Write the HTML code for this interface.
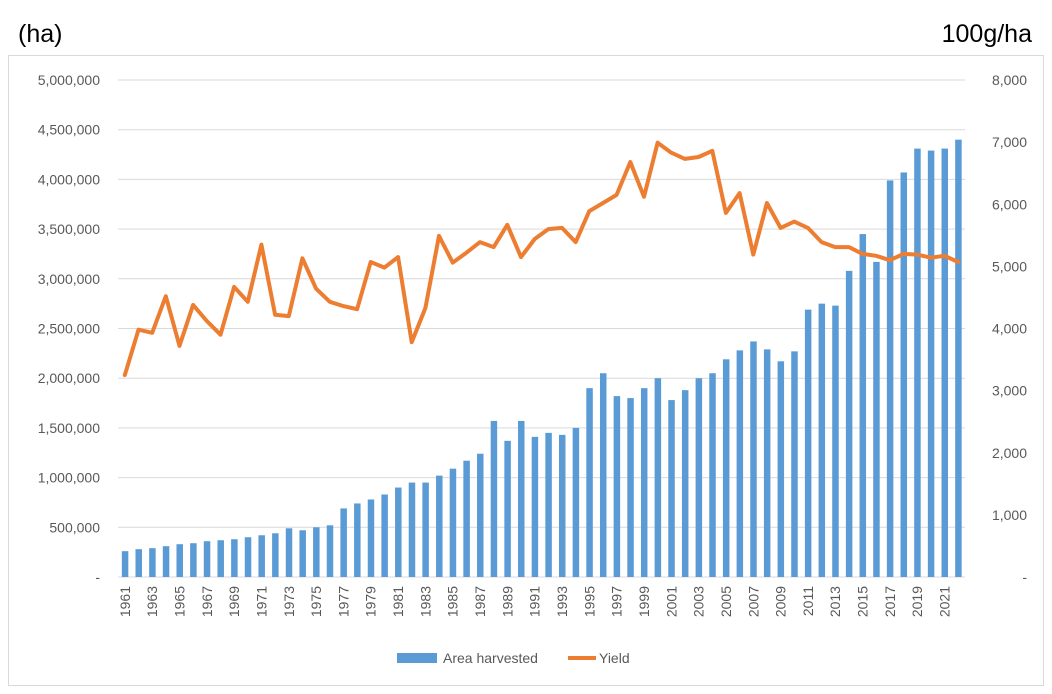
<!DOCTYPE html>
<html><head><meta charset="utf-8"><style>
body{margin:0;background:#fff;width:1052px;height:689px;overflow:hidden;font-family:"Liberation Sans",sans-serif}
text{font-family:"Liberation Sans",sans-serif}
</style></head><body>
<svg id="c" width="1052" height="689">
<text x="18" y="42" font-size="25" fill="#000">(ha)</text>
<text x="1032" y="42" font-size="25" fill="#000" text-anchor="end">100g/ha</text>
<rect x="8.5" y="55.5" width="1035" height="630" fill="none" stroke="#d9d9d9"/>
<g id="grid"></g><g id="bars"></g><g id="line"></g><g id="axes"></g>
<g>
<rect x="397" y="653" width="40" height="10" fill="#5b9bd5"/>
<text x="443" y="663" font-size="14" fill="#595959">Area harvested</text>
<line x1="568" y1="658" x2="596" y2="658" stroke="#ed7d31" stroke-width="4"/>
<text x="599" y="663" font-size="14" fill="#595959">Yield</text>
</g>
</svg>
<script>
const years=[];for(let y=1961;y<=2022;y++)years.push(y);
const area=[260,280,290,310,330,340,360,370,380,400,420,440,490,470,500,520,690,740,780,830,900,950,950,1020,1090,1170,1240,1570,1370,1570,1410,1450,1430,1500,1900,2050,1820,1800,1900,2000,1780,1880,2000,2050,2190,2280,2370,2290,2170,2270,2690,2750,2730,3080,3450,3170,3990,4070,4310,4290,4310,4400].map(v=>v*1000);
const yieldV=[3250,3980,3930,4520,3720,4380,4120,3900,4670,4430,5350,4220,4200,5130,4640,4430,4360,4310,5070,4980,5150,3780,4330,5490,5060,5220,5390,5310,5670,5150,5440,5600,5620,5390,5890,6020,6150,6680,6120,6990,6830,6730,6760,6860,5860,6180,5190,6020,5620,5720,5620,5390,5310,5310,5200,5170,5100,5200,5190,5140,5170,5070];
const leftTicks=[0,500000,1000000,1500000,2000000,2500000,3000000,3500000,4000000,4500000,5000000];
const rightTicks=[0,1000,2000,3000,4000,5000,6000,7000,8000];
const X0=118,X1=965,Y0=577,Y1=80;
const step=(X1-X0)/years.length;
const xc=i=>X0+step*(i+0.5);
const yl=v=>Y0-(v/5000000)*(Y0-Y1);
const yr=v=>Y0-(v/8000)*(Y0-Y1);
const NS='http://www.w3.org/2000/svg';
function mk(t,a,p){const e=document.createElementNS(NS,t);for(const k in a)e.setAttribute(k,a[k]);p.appendChild(e);return e;}
const g=document.getElementById('grid'),b=document.getElementById('bars'),l=document.getElementById('line'),ax=document.getElementById('axes');
const fmt=v=>v===0?'-':v.toLocaleString('en-US');
leftTicks.forEach(v=>{
 const ln=mk('line',{x1:X0,x2:X1,y1:yl(v),y2:yl(v),stroke:'#d9d9d9','stroke-width':1},g);
 
 
 const t=mk('text',{x:100,y:yl(v)+5,'font-size':14,fill:'#595959','text-anchor':'end'},ax);t.textContent=fmt(v);
 
 
});
rightTicks.forEach(v=>{
 const t=mk('text',{x:1027,y:yr(v)+5,'font-size':14,fill:'#595959','text-anchor':'end'},ax);t.textContent=v===0?'-   ':v.toLocaleString('en-US');
 
 
});
area.forEach((v,i)=>{
 const r=mk('rect',{x:xc(i)-3,y:yl(v),width:6.5,height:Y0-yl(v),fill:'#5b9bd5'},b);
 
 
});
const pts=yieldV.map((v,i)=>xc(i).toFixed(1)+','+yr(v).toFixed(1)).join(' ');
const pl=mk('polyline',{points:pts,fill:'none',stroke:'#ed7d31','stroke-width':4,'stroke-linejoin':'round','stroke-linecap':'round'},l);


years.forEach((y,i)=>{if(i%2)return;
 const x=xc(i)+5,yy=586;
 const t=mk('text',{x:x,y:yy,'font-size':14,fill:'#595959','text-anchor':'end',transform:`rotate(-90 ${x} ${yy})`},ax);t.textContent=y;
 
 
});
</script>
</body></html>
